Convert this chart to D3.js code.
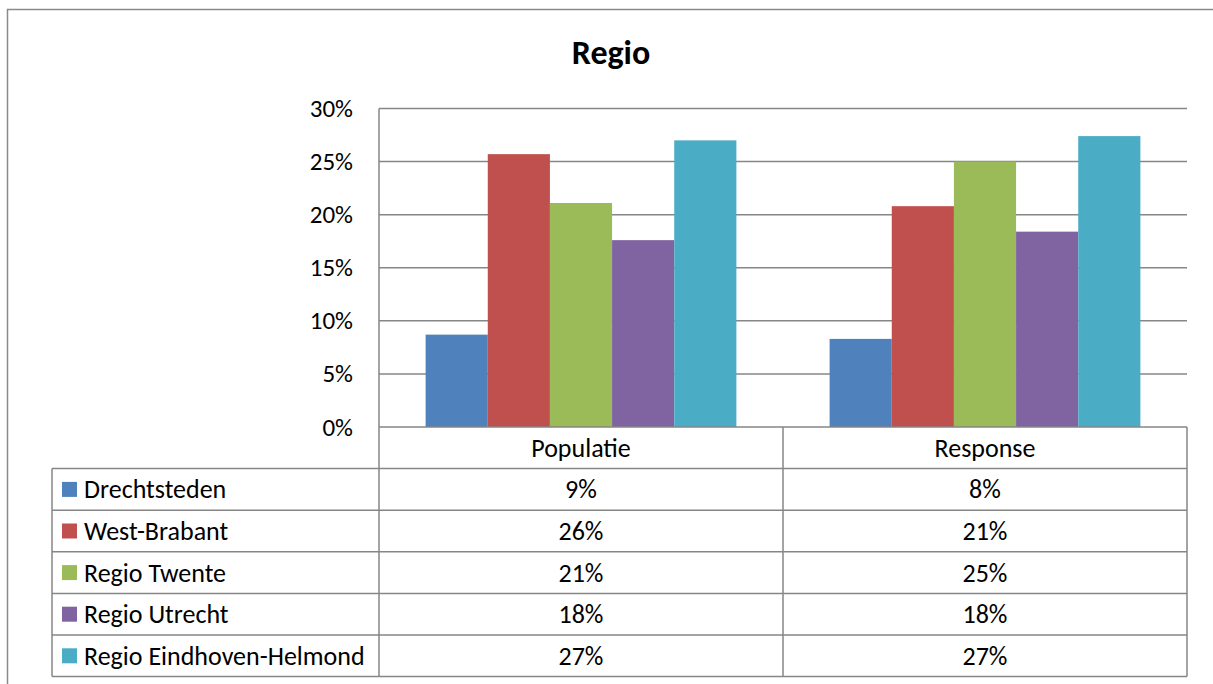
<!DOCTYPE html>
<html><head><meta charset="utf-8">
<script src="https://cdn.jsdelivr.net/npm/d3@7"></script>
<style>body{margin:0;background:#fff}svg{display:block}text{font-family:Carlito,Lato,"Liberation Sans",sans-serif;fill:#000}</style>
</head><body><svg id="c" width="1213" height="684"></svg>
<script>
const title = "Regio";
const categories = ["Populatie", "Response"];
const seriesNames = ["Drechtsteden", "West-Brabant", "Regio Twente", "Regio Utrecht", "Regio Eindhoven-Helmond"];
const populatie = [8.7, 25.7, 21.1, 17.6, 27.0];
const response = [8.3, 20.8, 25.0, 18.4, 27.4];
const colors = ["#4F81BD", "#C0504D", "#9BBB59", "#8064A2", "#4BACC6"];
const yTicks = [0, 5, 10, 15, 20, 25, 30];

const values = [populatie, response];
const svg = d3.select("#c");
const L = 379, R = 1187, T = 108.5, B = 427;
const gridCol = "#868686";
const fs = 26;

// outer frame
svg.append("path").attr("d", "M7.5,690 V9.5 H1220").attr("fill", "none").attr("stroke", "#8a8a8a").attr("stroke-width", 1.5);

svg.append("text").attr("x", 611).attr("y", 64).attr("text-anchor", "middle")
  .attr("font-size", 34).attr("font-weight", "bold").text(title);

const y = d3.scaleLinear().domain([0, 30]).range([B, T]);
const x0 = d3.scaleBand().domain(categories).range([L, R]);
const x1 = d3.scaleBand().domain(seriesNames).range([0, x0.bandwidth()]).paddingOuter(0.75).paddingInner(0);

// gridlines
svg.append("g").selectAll("line").data(yTicks.filter(d => d > 0)).join("line")
  .attr("x1", L).attr("x2", R).attr("y1", d => y(d)).attr("y2", d => y(d))
  .attr("stroke", gridCol).attr("stroke-width", 1.5);

// y axis labels
svg.append("g").selectAll("text").data(yTicks).join("text")
  .attr("x", 353).attr("y", d => y(d) + 8.5).attr("text-anchor", "end").attr("font-size", 25)
  .text(d => d + "%");

// bars
categories.forEach((c, ci) => {
  svg.append("g").selectAll("rect").data(values[ci]).join("rect")
    .attr("x", (d, i) => x0(c) + x1(seriesNames[i]))
    .attr("width", x1.bandwidth())
    .attr("y", d => y(d)).attr("height", d => B - y(d))
    .attr("fill", (d, i) => colors[i]);
});

// table
const rowH = 41.6;
const hdrTop = B, hdrBot = B + rowH;
const tblL = 52;
const rowY = i => hdrBot + i * rowH;
const g = svg.append("g").attr("stroke", gridCol).attr("stroke-width", 1.5);
g.append("line").attr("x1", L).attr("x2", R).attr("y1", B).attr("y2", B);
for (let i = 0; i <= seriesNames.length; i++) {
  g.append("line").attr("x1", tblL).attr("x2", R).attr("y1", rowY(i)).attr("y2", rowY(i));
}
g.append("line").attr("x1", L).attr("x2", L).attr("y1", T).attr("y2", rowY(seriesNames.length));
g.append("line").attr("x1", x0("Response")).attr("x2", x0("Response")).attr("y1", B).attr("y2", rowY(seriesNames.length));
g.append("line").attr("x1", R).attr("x2", R).attr("y1", B).attr("y2", rowY(seriesNames.length));
g.append("line").attr("x1", tblL).attr("x2", tblL).attr("y1", hdrBot).attr("y2", rowY(seriesNames.length));

// header labels
svg.append("g").selectAll("text").data(categories).join("text")
  .attr("x", d => x0(d) + x0.bandwidth() / 2).attr("y", hdrTop + rowH / 2 + 9)
  .attr("text-anchor", "middle").attr("font-size", fs).text(d => d);

// legend rows
seriesNames.forEach((s, i) => {
  const cy = rowY(i) + rowH / 2;
  svg.append("rect").attr("x", 62).attr("y", cy - 7.5).attr("width", 15).attr("height", 15).attr("fill", colors[i]);
  svg.append("text").attr("x", 84).attr("y", cy + 9).attr("font-size", fs).text(s);
  categories.forEach((c, ci) => {
    svg.append("text").attr("x", x0(c) + x0.bandwidth() / 2).attr("y", cy + 9)
      .attr("text-anchor", "middle").attr("font-size", fs).text(Math.round(values[ci][i]) + "%");
  });
});
</script></body></html>
